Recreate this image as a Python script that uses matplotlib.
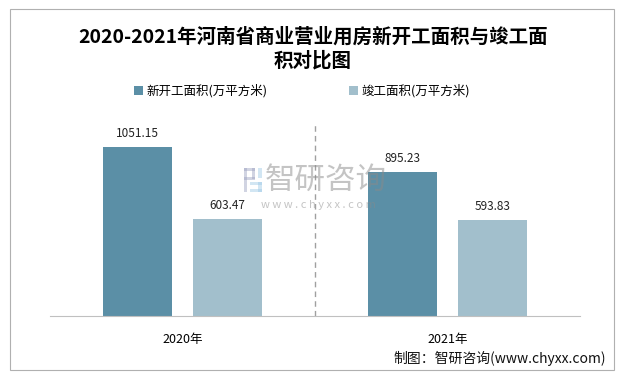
import matplotlib.pyplot as plt
import numpy as np
from matplotlib.patches import Rectangle

plt.rcParams['font.family'] = ['Noto Sans CJK SC', 'DejaVu Sans']

years = ["2020年", "2021年"]
new_area = [1051.15, 895.23]
done_area = [603.47, 593.83]
series_names = ["新开工面积(万平方米)", "竣工面积(万平方米)"]
colors = ["#5b8fa6", "#a2bfcc"]

W, H = 626, 377
fig = plt.figure(figsize=(W / 100, H / 100), dpi=100)


def px_rect(x0, y0, w, h, **kw):
    # rectangle in pixel coords, y measured from top
    return Rectangle((x0 / W, (H - y0 - h) / H), w / W, h / H,
                     transform=fig.transFigure, **kw)


# outer frame
fig.patches.append(px_rect(10, 9, 604, 361, fill=False, edgecolor="#b0b0b0", linewidth=0.8))

ax = fig.add_axes([50 / W, (H - 316) / H, 530 / W, 193 / H])
x = np.arange(len(years))
width = 0.26
off = 0.17
for vals, name, col, sign in [(new_area, series_names[0], colors[0], -1),
                              (done_area, series_names[1], colors[1], 1)]:
    bars = ax.bar(x + sign * off, vals, width, color=col, label=name)
    for b, v in zip(bars, vals):
        ax.text(b.get_x() + b.get_width() / 2, v + 45, f"{v:.2f}",
                ha="center", va="bottom", fontsize=8.5, color="#222222")

ax.set_xlim(-0.5, 1.5)
ax.set_ylim(0, 1200)
ax.axvline(0.5, color="#a0a0a0", linestyle=(0, (4, 3)), linewidth=1)
ax.set_yticks([])
ax.set_xticks(x, years, fontsize=9)
ax.tick_params(axis="x", length=0, pad=12)
for s in ["top", "right", "left"]:
    ax.spines[s].set_visible(False)
ax.spines["bottom"].set_color("#c0c0c0")

fig.text(313 / W, (H - 37) / H, "2020-2021年河南省商业营业用房新开工面积与竣工面",
         ha="center", va="center", fontsize=14, fontweight="bold")
fig.text(313 / W, (H - 61) / H, "积对比图",
         ha="center", va="center", fontsize=14, fontweight="bold")

ax.legend(loc="center", ncol=2, frameon=False, fontsize=9,
          handlelength=0.7, handleheight=0.7, handletextpad=0.3, columnspacing=6.5,
          bbox_to_anchor=(302 / W, (H - 91) / H), bbox_transform=fig.transFigure)

# watermark logo + text
wm = dict(alpha=0.45, linewidth=0)
fig.patches.append(px_rect(244, 168, 11, 3, color="#9aa0c0", **wm))
fig.patches.append(px_rect(244, 168, 3, 24, color="#9aa0c0", **wm))
fig.patches.append(px_rect(252, 168, 3, 11, color="#9aa0c0", **wm))
fig.patches.append(px_rect(244, 177, 11, 3, color="#9aa0c0", **wm))
fig.patches.append(px_rect(258, 168, 4, 10, color="#9cc8e6", **wm))
fig.patches.append(px_rect(250, 182, 12, 3, color="#9cc8e6", **wm))
fig.patches.append(px_rect(250, 189, 12, 3, color="#9cc8e6", **wm))
fig.patches.append(px_rect(258, 182, 4, 10, color="#9cc8e6", **wm))
fig.text(326 / W, (H - 180) / H, "智研咨询", ha="center", va="center",
         fontsize=22, color="#8a8a8a", alpha=0.5)
fig.text(318 / W, (H - 205) / H, "w w w . c h y x x . c o m", ha="center", va="center",
         fontsize=8, color="#8a8a8a", alpha=0.5)

fig.text(606 / W, (H - 358) / H, "制图：智研咨询(www.chyxx.com)", ha="right",
         va="center", fontsize=10, color="#111111")

fig.savefig("out.png", dpi=100)
